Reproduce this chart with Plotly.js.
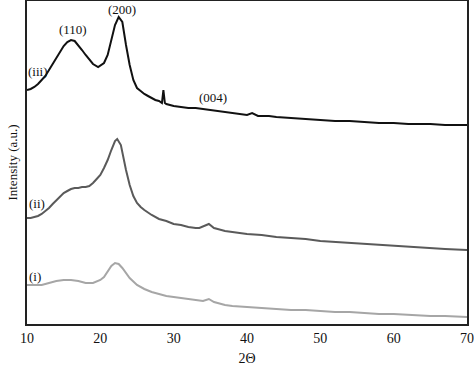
<!DOCTYPE html>
<html>
<head>
<meta charset="utf-8">
<script src="https://cdn.plot.ly/plotly-3.0.1.min.js"></script>
<style>html,body{margin:0;padding:0;background:#fff;}#chart{width:474px;height:366px;}</style>
</head>
<body>
<div id="chart"></div>
<script>
// 2-theta positions and intensities (a.u., stacked offsets as drawn)
const x3 = [10,10.5,11,11.5,12,12.5,13,13.5,14,14.5,15,15.5,16,16.5,17,17.5,18,18.5,19,19.7,20.5,21,21.5,22,22.5,23,23.5,24,24.5,25,25.5,26,26.5,27,27.5,28,28.4,28.6,28.8,29,29.5,30,31,32,33,34,35,36,37,38,39,40,40.7,41.5,43,44,46,48,50,52,54,56,58,60,62,65,67,70];
const y3 = [234,235,237,240,244,248,254,260,267,273,278,282,284,283,279,274,269,264,260,257,261,269,284,299,307,302,279,259,244,236,233,230,228,226,224,223,221,234,221,220,219,218,217,216,216,215,214,213,212,211,210,209,211,208,208,207,206,205,204,203,203,202,201,201,200,200,199,199];

const x2 = [10,10.5,11,11.5,12,12.5,13,13.5,14,14.5,15,15.5,16,16.5,17,17.5,18,18.5,19,19.5,20,20.5,21,21.5,22,22.3,22.8,23.5,24,24.5,25,25.5,26,27,28,29,30,31,32,33,33.5,34.8,35.5,36,37,38,40,42,44,46,48,50,52,54,56,58,60,62,65,67,70];
const y2 = [106,106,107,108,110,113,116,120,124,128,131,133,135,136,136,137,137,138,141,145,149,156,164,174,183,185,179,154,139,128,121,117,114,109,105,103,100,99,97,96,96,100,96,95,93,92,90,89,87,86,85,83,82,81,80,79,78,77,76,75,74];

const x1 = [10,11,12,13,14,15,16,17,18,19,20,20.5,21,21.5,22,22.5,23,23.5,24,25,26,27,28,29,30,31,32,33,34,34.8,35.5,37,38,40,42,44,46,48,50,52,54,56,58,60,62,65,67,70];
const y1 = [39,39,39,41,43,44,44,43,41,41,44,47,52,58,61,60,56,51,46,39,35,32,30,28,27,26,25,24,23,25,22,19,18,17,16,15,14,14,13,12,12,11,10,10,9,8,8,7];

const seriesLabels = ['(i)','(ii)','(iii)'];
const peakLabels = ['(110)','(200)','(004)'];
const xTicks = [10,20,30,40,50,60,70];

const serif = 'Liberation Serif, Times New Roman, serif';
const traces = [
  {x:x1, y:y1, mode:'lines', line:{color:'#a6a6a6', width:2}},
  {x:x2, y:y2, mode:'lines', line:{color:'#5a5a5a', width:2}},
  {x:x3, y:y3, mode:'lines', line:{color:'#111111', width:2}}
];
const ann = (t,x,y)=>({text:t, x:x, y:y, xref:'x', yref:'y', showarrow:false, font:{family:serif, size:13, color:'#111'}});
const layout = {
  width:474, height:366,
  margin:{l:27, r:7, t:1, b:42},
  paper_bgcolor:'#fff', plot_bgcolor:'#fff',
  showlegend:false,
  xaxis:{range:[10,70], tickvals:xTicks, ticktext:xTicks.map(String), ticks:'', showgrid:false, zeroline:false,
         showline:true, mirror:true, linecolor:'#222', linewidth:2,
         tickfont:{family:serif, size:14, color:'#111'},
         title:{text:'2Θ', font:{family:serif, size:14, color:'#111'}, standoff:12}},
  yaxis:{range:[0,323], showticklabels:false, ticks:'', showgrid:false, zeroline:false,
         showline:true, mirror:true, linecolor:'#222', linewidth:2,
         title:{text:'Intensity (a.u.)', font:{family:serif, size:13, color:'#111'}, standoff:4}},
  annotations:[
    ann(peakLabels[0],16.3,295), ann(peakLabels[1],23.0,315), ann(peakLabels[2],35.4,227),
    ann(seriesLabels[2],11.5,253), ann(seriesLabels[1],11.4,121), ann(seriesLabels[0],11.1,48)
  ]
};
Plotly.newPlot('chart', traces, layout, {displayModeBar:false, staticPlot:true});
</script>
</body>
</html>
